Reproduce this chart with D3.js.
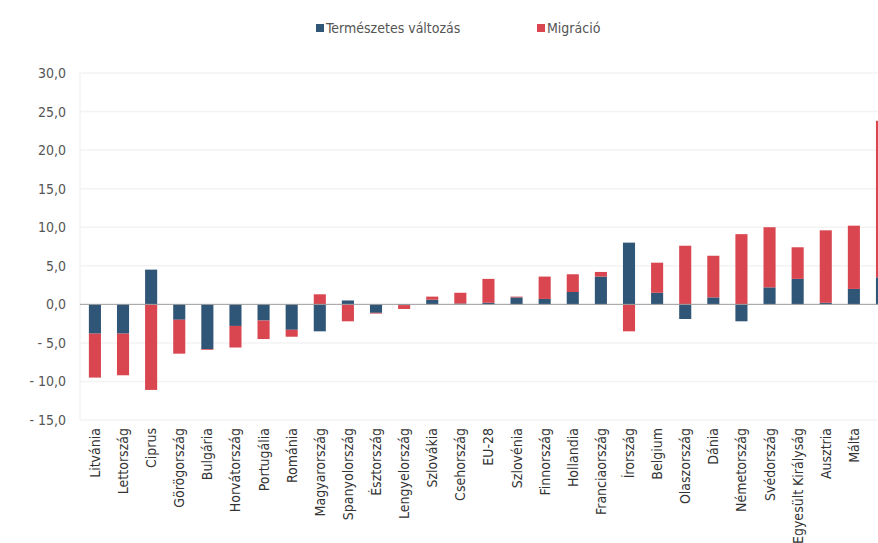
<!DOCTYPE html>
<html>
<head>
<meta charset="utf-8">
<script src="https://cdn.jsdelivr.net/npm/d3@7"></script>
<style>
  html, body { margin: 0; padding: 0; background: #fff; }
  svg { display: block; }
</style>
</head>
<body>
<svg id="chart" width="878" height="543"></svg>
<script>
// Population change components per country (per 1000 inhabitants)
const countries = [
  "Litvánia", "Lettország", "Ciprus", "Görögország", "Bulgária", "Horvátország",
  "Portugália", "Románia", "Magyarország", "Spanyolország", "Észtország",
  "Lengyelország", "Szlovákia", "Csehország", "EU-28", "Szlovénia", "Finnország",
  "Hollandia", "Franciaország", "Írország", "Belgium", "Olaszország", "Dánia",
  "Németország", "Svédország", "Egyesült Királyság", "Ausztria", "Málta", "Luxemburg"
];
const naturalChange = [
  -3.8, -3.8, 4.5, -2.0, -5.8, -2.8,
  -2.1, -3.3, -3.5, 0.5, -1.1,
  -0.1, 0.6, 0.1, 0.2, 0.9, 0.7,
  1.6, 3.6, 8.0, 1.5, -1.9, 0.9,
  -2.2, 2.2, 3.3, 0.2, 2.0, 3.5
];
const migration = [
  -5.7, -5.4, -11.1, -4.4, -0.1, -2.8,
  -2.4, -0.9, 1.3, -2.2, -0.1,
  -0.5, 0.4, 1.4, 3.1, 0.1, 2.9,
  2.3, 0.6, -3.5, 3.9, 7.6, 5.4,
  9.1, 7.8, 4.1, 9.4, 8.2, 20.3
];
const seriesNames = ["Természetes változás", "Migráció"];
const seriesColors = ["#2f5577", "#d9464f"];
const yTicks = [-15, -10, -5, 0, 5, 10, 15, 20, 25, 30];

const rows = countries.map((c, i) => ({ country: c, nat: naturalChange[i], mig: migration[i] }));

const svg = d3.select("#chart");
const fontFamily = "'Liberation Sans Narrow', 'DejaVu Sans Condensed', 'Liberation Sans', sans-serif";
const width = 878;

const x = d3.scaleBand()
  .domain(countries)
  .range([81, 81 + 28.1 * countries.length])
  .paddingInner(0.57)
  .paddingOuter(0.28);

const y = d3.scaleLinear().domain([-15, 30]).range([420, 73]);

// Faint horizontal gridlines
svg.append("g")
  .selectAll("line")
  .data(yTicks.filter(t => t !== 0))
  .join("line")
  .attr("x1", 80).attr("x2", width)
  .attr("y1", d => y(d)).attr("y2", d => y(d))
  .attr("stroke", "#f3f3f3")
  .attr("stroke-width", 1.5);

// Faint vertical axis line
svg.append("line")
  .attr("x1", 80).attr("x2", 80)
  .attr("y1", y(30)).attr("y2", y(-15))
  .attr("stroke", "#f3f3f3").attr("stroke-width", 1.5);

// Y axis labels
const yAxis = d3.axisLeft(y)
  .tickValues(yTicks)
  .tickSize(0)
  .tickPadding(0)
  .tickFormat(d => (d < 0 ? "- " : "") + Math.abs(d).toFixed(1).replace(".", ","));

const yg = svg.append("g")
  .attr("transform", "translate(66,0)")
  .call(yAxis);
yg.select(".domain").remove();
yg.selectAll("text")
  .attr("font-family", fontFamily)
  .attr("font-size", 14)
  .attr("fill", "#555");

// Stacked bars (diverging around zero)
const stack = d3.stack()
  .keys(["nat", "mig"])
  .offset(d3.stackOffsetDiverging);
const layers = stack(rows);

svg.append("g")
  .selectAll("g")
  .data(layers)
  .join("g")
  .attr("fill", (d, i) => seriesColors[i])
  .selectAll("rect")
  .data(d => d)
  .join("rect")
  .attr("x", d => x(d.data.country))
  .attr("width", x.bandwidth())
  .attr("y", d => y(Math.max(d[0], d[1])))
  .attr("height", d => Math.abs(y(d[0]) - y(d[1])));

// Zero line
svg.append("line")
  .attr("x1", 80).attr("x2", width)
  .attr("y1", y(0)).attr("y2", y(0))
  .attr("stroke", "#9a9a9a").attr("stroke-width", 1);

// Category labels, rotated (only those that fit inside the drawing area)
svg.append("g")
  .selectAll("text")
  .data(countries.filter(d => x(d) + x.bandwidth() / 2 + 10 < width))
  .join("text")
  .attr("transform", d => `translate(${x(d) + x.bandwidth() / 2 + 5},428) rotate(-90)`)
  .attr("text-anchor", "end")
  .attr("font-family", fontFamily)
  .attr("font-size", 14)
  .attr("fill", "#333")
  .text(d => d);

// Legend
const legendItems = [
  { name: seriesNames[0], color: seriesColors[0], x: 316 },
  { name: seriesNames[1], color: seriesColors[1], x: 537 }
];
const lg = svg.append("g");
lg.selectAll("rect")
  .data(legendItems)
  .join("rect")
  .attr("x", d => d.x).attr("y", 24)
  .attr("width", 8).attr("height", 8)
  .attr("fill", d => d.color);
lg.selectAll("text")
  .data(legendItems)
  .join("text")
  .attr("x", d => d.x + 10).attr("y", 33)
  .attr("font-family", fontFamily)
  .attr("font-size", 14)
  .attr("fill", "#555")
  .text(d => d.name);
</script>
</body>
</html>
